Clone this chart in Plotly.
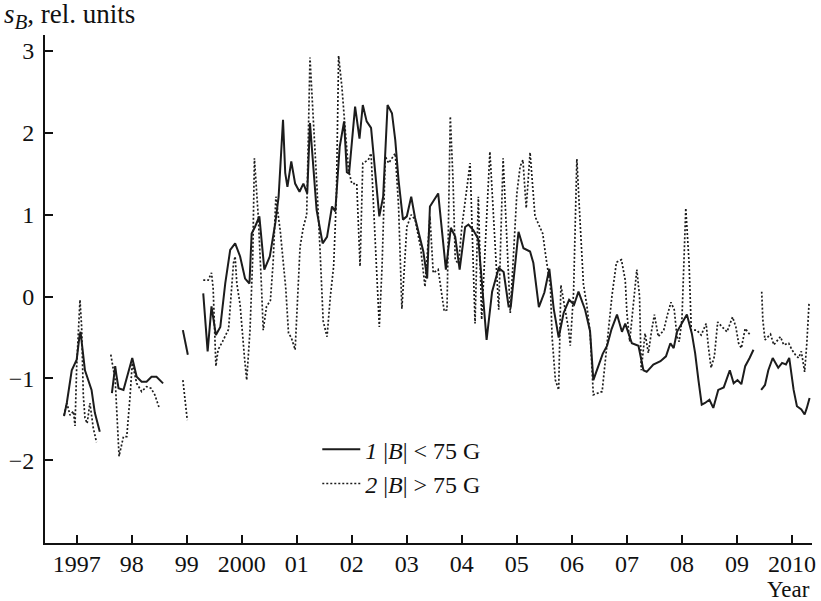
import plotly.graph_objects as go

# ---- Series 1: |B| < 75 G (solid); None separates observation gaps ----
year1 = [
    1996.77, 1996.82, 1996.91, 1997.00, 1997.05, 1997.07, 1997.15, 1997.27, 1997.33, 1997.42, None,
    1997.64, 1997.70, 1997.72, 1997.76, 1997.85, 1997.93, 1998.01, 1998.09, 1998.18, 1998.27, 1998.36, 1998.45, 1998.57, None,
    1998.93, 1999.02, None,
    1999.30, 1999.38, 1999.45, 1999.53, 1999.61, 1999.70, 1999.79, 1999.88, 1999.97, 2000.06,
    2000.14, 2000.18, 2000.24, 2000.32, 2000.41, 2000.51, 2000.61, 2000.67, 2000.75, 2000.79,
    2000.83, 2000.90, 2000.97, 2001.05, 2001.12, 2001.19, 2001.24, 2001.30, 2001.36, 2001.47,
    2001.55, 2001.64, 2001.70, 2001.78, 2001.86, 2001.91, 2001.95, 2002.06, 2002.14, 2002.20,
    2002.27, 2002.35, 2002.42, 2002.50, 2002.57, 2002.65, 2002.73, 2002.79, 2002.85, 2002.93,
    2003.00, 2003.08, 2003.15, 2003.24, 2003.30, 2003.37, 2003.42, 2003.57, 2003.71, 2003.80,
    2003.88, 2003.96, 2004.06, 2004.12, 2004.21, 2004.30, 2004.36, 2004.45, 2004.55, 2004.67,
    2004.76, 2004.85, 2004.89, 2005.03, 2005.12, 2005.24, 2005.30, 2005.40, 2005.50, 2005.59,
    2005.67, 2005.76, 2005.85, 2005.95, 2006.04, 2006.12, 2006.24, 2006.33, 2006.39, 2006.48,
    2006.56, 2006.64, 2006.72, 2006.82, 2006.91, 2006.97, 2007.09, 2007.21, 2007.30, 2007.36,
    2007.48, 2007.61, 2007.71, 2007.79, 2007.85, 2007.91, 2008.00, 2008.09, 2008.18, 2008.24,
    2008.30, 2008.36, 2008.42, 2008.50, 2008.57, 2008.66, 2008.76, 2008.87, 2008.94, 2009.01,
    2009.08, 2009.15, 2009.23, 2009.30, None,
    2009.44, 2009.51, 2009.57, 2009.65, 2009.75, 2009.82, 2009.89, 2009.95, 2010.03, 2010.09,
    2010.17, 2010.23, 2010.27, 2010.32,
]
sb1 = [
    -1.46, -1.30, -0.90, -0.77, -0.49, -0.43, -0.90, -1.14, -1.42, -1.65, None,
    -1.18, -0.85, -0.95, -1.12, -1.14, -0.93, -0.75, -0.98, -1.04, -1.04, -0.98, -0.98, -1.06, None,
    -0.41, -0.71, None,
    0.04, -0.67, -0.12, -0.47, -0.37, 0.16, 0.57, 0.65, 0.49, 0.22,
    0.16, 0.77, 0.85, 0.98, 0.33, 0.49, 0.90, 1.22, 2.16, 1.51,
    1.34, 1.65, 1.38, 1.28, 1.38, 1.26, 2.12, 1.55, 1.06, 0.65,
    0.73, 1.10, 1.04, 1.83, 2.14, 1.52, 1.50, 2.32, 1.93, 2.34,
    2.14, 2.06, 1.51, 0.98, 1.22, 2.34, 2.24, 1.91, 1.42, 0.94,
    0.98, 1.22, 0.96, 0.73, 0.55, 0.22, 1.10, 1.26, 0.33, 0.84,
    0.73, 0.33, 0.85, 0.88, 0.81, 0.70, 0.20, -0.53, 0.06, 0.35,
    0.30, -0.12, -0.12, 0.79, 0.59, 0.55, 0.41, -0.13, 0.05, 0.34,
    -0.15, -0.50, -0.20, -0.04, -0.10, 0.06, -0.16, -0.42, -1.02, -0.85,
    -0.70, -0.60, -0.40, -0.22, -0.43, -0.33, -0.57, -0.60, -0.90, -0.92,
    -0.83, -0.79, -0.73, -0.57, -0.63, -0.43, -0.32, -0.22, -0.45, -0.69,
    -1.02, -1.32, -1.30, -1.26, -1.36, -1.14, -1.11, -0.90, -1.06, -1.02,
    -1.07, -0.85, -0.75, -0.65, None,
    -1.14, -1.08, -0.90, -0.75, -0.87, -0.81, -0.83, -0.75, -1.14, -1.34,
    -1.38, -1.44, -1.36, -1.24,
]

# ---- Series 2: |B| > 75 G (dotted) ----
year2 = [
    1996.77, 1996.82, 1996.88, 1996.94, 1996.97, 1997.00, 1997.06, 1997.09, 1997.12, 1997.15,
    1997.19, 1997.24, 1997.30, 1997.36, None,
    1997.62, 1997.70, 1997.73, 1997.77, 1997.85, 1997.91, 1997.97, 1998.01, 1998.09, 1998.18,
    1998.27, 1998.35, 1998.42, 1998.50, None,
    1998.93, 1999.01, None,
    1999.30, 1999.39, 1999.45, 1999.48, 1999.53, 1999.57, 1999.65, 1999.76, 1999.85, 1999.88,
    1999.91, 1999.97, 2000.05, 2000.09, 2000.15, 2000.20, 2000.23, 2000.30, 2000.36, 2000.39,
    2000.45, 2000.52, 2000.57, 2000.62, 2000.70, 2000.76, 2000.80, 2000.85, 2000.90, 2000.97,
    2001.06, 2001.12, 2001.18, 2001.24, 2001.30, 2001.36, 2001.42, 2001.48, 2001.55, 2001.61,
    2001.67, 2001.72, 2001.76, 2001.82, 2001.88, 2001.94, 2002.00, 2002.09, 2002.15, 2002.20,
    2002.30, 2002.35, 2002.39, 2002.50, 2002.55, 2002.61, 2002.67, 2002.73, 2002.79, 2002.85,
    2002.91, 2003.00, 2003.08, 2003.15, 2003.25, 2003.33, 2003.42, 2003.48, 2003.57, 2003.68,
    2003.73, 2003.79, 2003.84, 2003.88, 2003.94, 2004.00, 2004.15, 2004.24, 2004.30, 2004.36,
    2004.51, 2004.67, 2004.75, 2004.88, 2004.97, 2005.00, 2005.06, 2005.11, 2005.17, 2005.24,
    2005.33, 2005.47, 2005.53, 2005.61, 2005.64, 2005.70, 2005.76, 2005.80, 2005.94, 2005.97,
    2006.03, 2006.09, 2006.15, 2006.21, 2006.27, 2006.33, 2006.39, 2006.55, 2006.64, 2006.73,
    2006.81, 2006.90, 2006.97, 2007.00, 2007.05, 2007.18, 2007.23, 2007.26, 2007.33, 2007.39,
    2007.45, 2007.50, 2007.57, 2007.67, 2007.73, 2007.80, 2007.86, 2007.91, 2007.95, 2008.00,
    2008.07, 2008.13, 2008.17, 2008.27, 2008.35, 2008.44, 2008.48, 2008.53, 2008.59, 2008.65,
    2008.73, 2008.82, 2008.92, 2008.98, 2009.03, 2009.08, 2009.15, 2009.24, None,
    2009.45, 2009.47, 2009.51, 2009.61, 2009.67, 2009.79, 2009.85, 2009.94, 2010.00, 2010.06,
    2010.12, 2010.17, 2010.23, 2010.27, 2010.31,
]
sb2 = [
    -1.45, -1.30, -1.45, -1.40, -1.58, -0.85, -0.04, -0.37, -1.20, -1.48,
    -1.55, -1.30, -1.60, -1.78, None,
    -0.71, -1.02, -1.42, -1.95, -1.71, -1.71, -1.22, -0.81, -1.06, -1.16,
    -1.10, -1.12, -1.20, -1.36, None,
    -1.02, -1.51, None,
    0.20, 0.20, 0.29, 0.10, -0.85, -0.65, -0.55, -0.40, 0.41, 0.49,
    0.16, -0.10, -0.75, -1.02, -0.41, 0.49, 1.69, 0.98, 0.10, -0.41,
    -0.12, -0.05, 0.41, 1.22, 0.80, 0.41, 0.10, -0.45, -0.50, -0.65,
    0.61, 0.85, 1.00, 2.92, 2.24, 1.42, 0.61, -0.30, -0.49, 0.00,
    0.37, 1.22, 2.94, 2.56, 2.04, 1.55, 1.38, 1.38, 0.37, 1.63,
    1.67, 1.75, 1.18, -0.37, 0.37, 1.71, 1.63, 1.69, 1.75, 1.10,
    -0.15, 0.85, 1.00, 0.94, 0.60, 0.12, 0.98, 0.29, 0.33, -0.18,
    -0.16, 2.20, 1.42, 0.45, 0.40, 0.85, 1.63, -0.33, 1.22, -0.28,
    1.77, -0.16, 1.69, -0.20, 0.94, 1.26, 1.59, 1.67, 1.08, 1.76,
    0.98, 0.77, 0.47, 0.12, -0.49, -1.02, -1.14, 0.14, -0.40, -0.60,
    0.04, 1.68, 0.90, 0.15, -0.10, -0.43, -1.20, -1.16, -0.57, 0.02,
    0.42, 0.45, 0.20, -0.20, -0.55, 0.33, 0.00, -0.90, -0.45, -0.69,
    -0.41, -0.22, -0.49, -0.41, -0.24, -0.07, -0.16, -0.49, -0.55, -0.28,
    1.08, 0.41, -0.41, -0.41, -0.47, -0.33, -0.61, -0.87, -0.73, -0.31,
    -0.37, -0.43, -0.25, -0.37, -0.57, -0.63, -0.39, -0.47, None,
    0.06, -0.28, -0.53, -0.46, -0.59, -0.49, -0.59, -0.57, -0.65, -0.71,
    -0.75, -0.67, -0.92, -0.57, -0.08,
]

# ---- Axis ticks ----
x_tickvals = [1997, 1998, 1999, 2000, 2001, 2002, 2003, 2004, 2005, 2006, 2007, 2008, 2009, 2010]
x_ticktext = ["1997", "98", "99", "2000", "01", "02", "03", "04", "05", "06", "07", "08", "09", "2010"]
y_tickvals = [-2, -1, 0, 1, 2, 3]
y_ticktext = ["\u22122", "\u22121", "0", "1", "2", "3"]

FONT = "Liberation Serif, Times New Roman, serif"
INK = "#111111"

fig = go.Figure()
fig.add_trace(go.Scatter(
    x=year1, y=sb1, mode="lines", connectgaps=False,
    line=dict(color="#1c1c1c", width=2),
    name="<i>1</i> |<i>B</i>| &lt; 75 G",
))
fig.add_trace(go.Scatter(
    x=year2, y=sb2, mode="lines", connectgaps=False,
    line=dict(color="#1c1c1c", width=1.7, dash="2px,2px"),
    name="<i>2</i> |<i>B</i>| &gt; 75 G",
))

axis_common = dict(
    showgrid=False, zeroline=False, showline=True, linecolor=INK, linewidth=2,
    ticks="inside", ticklen=8, tickwidth=2, tickcolor=INK, automargin=False,
    tickfont=dict(family=FONT, size=24, color=INK),
)

fig.update_layout(
    width=821, height=601,
    margin=dict(l=45, r=9, t=35, b=58),
    paper_bgcolor="white", plot_bgcolor="white",
    font=dict(family=FONT, color=INK),
    xaxis=dict(range=[1996.424, 2010.364], tickmode="array", ticklabelstandoff=-2,
               tickvals=x_tickvals, ticktext=x_ticktext, **axis_common),
    yaxis=dict(range=[-3.01, 3.195], tickmode="array", ticklabelstandoff=4,
               tickvals=y_tickvals, ticktext=y_ticktext, **axis_common),
    showlegend=True,
    legend=dict(x=0.355, y=0.228, xanchor="left", yanchor="top",
                bgcolor="rgba(0,0,0,0)", borderwidth=0, itemwidth=38,
                font=dict(family=FONT, size=24, color=INK),
                tracegroupgap=0),
    annotations=[
        dict(text="<i>s</i><sub><span style='font-size:21px'><i>B</i></span></sub>, rel. units",
             xref="paper", yref="paper",
             x=-0.056, y=1.036, xanchor="left", yanchor="middle", showarrow=False,
             font=dict(family=FONT, size=27, color=INK)),
        dict(text="Year", xref="paper", yref="paper", x=1.0, y=-0.091,
             xanchor="right", yanchor="middle", showarrow=False,
             font=dict(family=FONT, size=23, color=INK)),
    ],
)

fig.write_html("out.html", config={"displayModeBar": False},
               post_script="document.body.style.margin='0px';")
